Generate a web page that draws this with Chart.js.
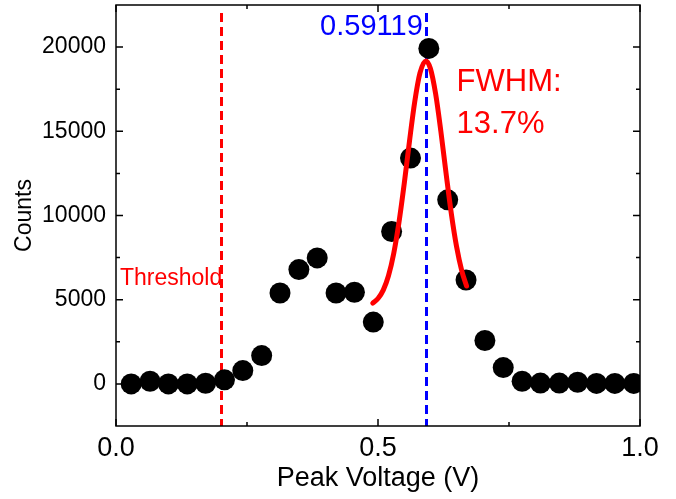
<!DOCTYPE html>
<html>
<head>
<meta charset="utf-8">
<script src="https://cdn.jsdelivr.net/npm/chart.js@4.4.1/dist/chart.umd.min.js"></script>
<style>
  html, body { margin: 0; padding: 0; background: #fff; }
</style>
</head>
<body>
<canvas id="chart" width="676" height="499"></canvas>
<script>
// pulse height histogram (bin centres in V, counts per bin)
const voltage = [0.029, 0.065, 0.100, 0.136, 0.171, 0.207, 0.242, 0.278, 0.313, 0.349,
                 0.384, 0.420, 0.455, 0.491, 0.526, 0.562, 0.597, 0.633, 0.668, 0.704,
                 0.739, 0.775, 0.810, 0.846, 0.881, 0.917, 0.952, 0.988];
const counts = [0, 160, 0, 0, 40, 240, 790, 1680, 5400, 6790,
                7480, 5400, 5440, 3670, 9050, 13410, 19920, 10930, 6170, 2580,
                970, 160, 50, 50, 100, 30, 30, 30];

// gaussian fit over the main peak
const fitVoltage = [0.490, 0.500, 0.510, 0.520, 0.530, 0.540, 0.550, 0.560, 0.570, 0.580,
                    0.5912, 0.600, 0.610, 0.620, 0.630, 0.640, 0.650, 0.660, 0.669];
const fitCounts = [4800, 5070, 5570, 6420, 7745, 9590, 11880, 14390, 16730, 18450,
                   19180, 18730, 17220, 14990, 12480, 10100, 8140, 6700, 5810];

const thresholdV = 0.2;
const peakV = 0.59119;
const fwhmLines = ['FWHM:', '13.7%'];

const xTicks = [0, 0.5, 1.0];
const xMinor = [0.25, 0.75];
const yTicks = [0, 5000, 10000, 15000, 20000];
const yMinor = [2500, 7500, 12500, 17500];

const FONT = "'Liberation Sans', Arial, sans-serif";
Chart.defaults.font.family = FONT;
Chart.defaults.color = '#000';

// box, inward ticks, marker lines and labels
const decor = {
  id: 'decor',
  beforeDatasetsDraw(chart) {
    const { ctx, chartArea: a, scales: { x } } = chart;
    ctx.save();
    ctx.lineWidth = 3;
    ctx.setLineDash([9, 5]);
    [[thresholdV, '#ff0000'], [peakV, '#0000ff']].forEach(([v, c]) => {
      const px = Math.round(x.getPixelForValue(v)) + 0.5;
      ctx.strokeStyle = c;
      ctx.beginPath();
      ctx.moveTo(px, a.top + 8);
      ctx.lineTo(px, a.bottom);
      ctx.stroke();
    });
    ctx.restore();
  },
  afterDatasetsDraw(chart) {
    const { ctx, chartArea: a, scales: { x, y } } = chart;
    ctx.save();
    ctx.strokeStyle = '#000';
    ctx.lineWidth = 1.5;
    ctx.strokeRect(a.left, a.top, a.right - a.left, a.bottom - a.top);

    const tickX = (vals, len) => vals.forEach(v => {
      const px = x.getPixelForValue(v);
      ctx.beginPath();
      ctx.moveTo(px, a.bottom); ctx.lineTo(px, a.bottom - len);
      ctx.moveTo(px, a.top); ctx.lineTo(px, a.top + len);
      ctx.stroke();
    });
    const tickY = (vals, len) => vals.forEach(v => {
      const py = y.getPixelForValue(v);
      ctx.beginPath();
      ctx.moveTo(a.left, py); ctx.lineTo(a.left + len, py);
      ctx.moveTo(a.right, py); ctx.lineTo(a.right - len, py);
      ctx.stroke();
    });
    tickX(xTicks, 7); tickX(xMinor, 4);
    tickY(yTicks, 7); tickY(yMinor, 4);

    // peak position
    ctx.fillStyle = '#0000ff';
    ctx.font = '29px ' + FONT;
    ctx.textAlign = 'right';
    ctx.textBaseline = 'alphabetic';
    ctx.fillText(String(peakV), x.getPixelForValue(peakV) - 3, a.top + 30);

    // resolution
    ctx.fillStyle = '#ff0000';
    ctx.font = '31px ' + FONT;
    ctx.textAlign = 'left';
    fwhmLines.forEach((t, i) => ctx.fillText(t, x.getPixelForValue(0.65), a.top + 86 + i * 42));

    ctx.font = '23px ' + FONT;
    ctx.fillText('Threshold', a.left + 4, y.getPixelForValue(5900));
    ctx.restore();
  }
};

new Chart(document.getElementById('chart'), {
  type: 'scatter',
  data: {
    datasets: [
      {
        type: 'line',
        data: fitVoltage.map((v, i) => ({ x: v, y: fitCounts[i] })),
        borderColor: '#ff0000',
        borderWidth: 5,
        pointRadius: 0,
        cubicInterpolationMode: 'monotone',
        borderCapStyle: 'round',
        fill: false,
        clip: 0
      },
      {
        data: voltage.map((v, i) => ({ x: v, y: counts[i] })),
        backgroundColor: '#000',
        borderWidth: 0,
        pointRadius: 10.5,
        clip: 0
      }
    ]
  },
  options: {
    responsive: false,
    animation: false,
    devicePixelRatio: 1,
    layout: { autoPadding: false, padding: { top: 5, right: 36, left: 0, bottom: 0 } },
    plugins: { legend: { display: false }, tooltip: { enabled: false } },
    scales: {
      x: {
        type: 'linear',
        min: 0, max: 1,
        afterBuildTicks(s) { s.ticks = xTicks.map(v => ({ value: v })); },
        afterFit(s) { s.height = 73; s.paddingLeft = 0; s.paddingRight = 0; },
        grid: { display: false, drawTicks: false },
        border: { display: false },
        ticks: {
          padding: 6,
          font: { size: 27 },
          callback: v => v.toFixed(1)
        },
        title: {
          display: true,
          text: 'Peak Voltage (V)',
          font: { size: 27 },
          padding: { top: 0, bottom: 4 }
        }
      },
      y: {
        type: 'linear',
        min: -2500, max: 22500,
        afterBuildTicks(s) { s.ticks = yTicks.map(v => ({ value: v })); },
        afterFit(s) { s.width = 116; s.paddingTop = 0; s.paddingBottom = 0; },
        grid: { display: false, drawTicks: false },
        border: { display: false },
        ticks: {
          padding: 10,
          font: { size: 23 },
          callback: v => String(v)
        },
        title: {
          display: true,
          text: 'Counts',
          font: { size: 23 },
          padding: { top: 11, bottom: 0 }
        }
      }
    }
  },
  plugins: [decor]
});
</script>
</body>
</html>
